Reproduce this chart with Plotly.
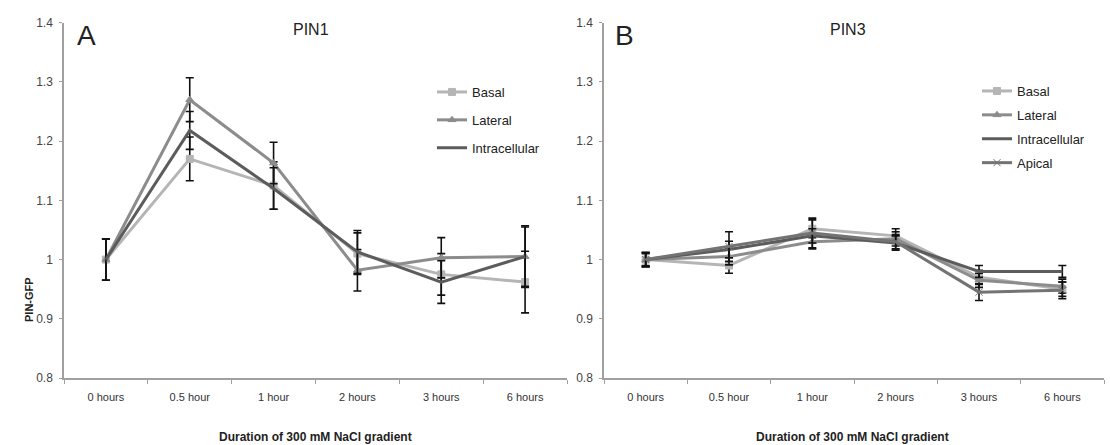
import plotly.graph_objects as go

categories = ["0 hours", "0.5 hour", "1 hour", "2 hours", "3 hours", "6 hours"]

# Panel A - PIN1
pin1_basal = [1.0, 1.17, 1.125, 1.01, 0.975, 0.962]
pin1_basal_err = [0.035, 0.037, 0.04, 0.035, 0.035, 0.052]
pin1_lateral = [1.0, 1.27, 1.163, 0.982, 1.003, 1.005]
pin1_lateral_err = [0.035, 0.037, 0.035, 0.035, 0.034, 0.05]
pin1_intra = [1.0, 1.218, 1.12, 1.013, 0.962, 1.005]
pin1_intra_err = [0.035, 0.032, 0.035, 0.036, 0.036, 0.052]

# Panel B - PIN3
pin3_basal = [1.0, 0.99, 1.052, 1.04, 0.97, 0.95]
pin3_basal_err = [0.012, 0.013, 0.015, 0.012, 0.012, 0.012]
pin3_lateral = [1.0, 1.005, 1.03, 1.035, 0.965, 0.955]
pin3_lateral_err = [0.012, 0.014, 0.012, 0.012, 0.012, 0.012]
pin3_intra = [1.0, 1.017, 1.04, 1.028, 0.98, 0.98]
pin3_intra_err = [0.012, 0.014, 0.012, 0.012, 0.01, 0.01]
pin3_apical = [1.0, 1.022, 1.045, 1.03, 0.945, 0.948]
pin3_apical_err = [0.01, 0.025, 0.025, 0.012, 0.014, 0.014]

y_ticks = [0.8, 0.9, 1.0, 1.1, 1.2, 1.3, 1.4]
y_tick_text = ["0.8", "0.9", "1", "1.1", "1.2", "1.3", "1.4"]

C_BASAL = "#b5b5b5"
C_LATERAL = "#8c8c8c"
C_INTRA = "#5c5c5c"
C_APICAL = "#737373"
FONT = "Liberation Sans, Arial, sans-serif"

fig = go.Figure()

def add(x, y, err, name, color, symbol, xa, ya, legend, group, show_marker=True):
    fig.add_trace(go.Scatter(
        x=x, y=y, name=name, mode="lines+markers" if show_marker else "lines",
        line=dict(color=color, width=3),
        marker=dict(symbol=symbol, size=7, color=color,
                    line=dict(color=color, width=1)),
        error_y=dict(type="data", array=err, color="#111111", thickness=1.6, width=4),
        xaxis=xa, yaxis=ya, legend=legend, legendgroup=group,
    ))

add(categories, pin1_basal, pin1_basal_err, "Basal", C_BASAL, "square", "x", "y", "legend", "a1")
add(categories, pin1_lateral, pin1_lateral_err, "Lateral", C_LATERAL, "triangle-up", "x", "y", "legend", "a2")
add(categories, pin1_intra, pin1_intra_err, "Intracellular", C_INTRA, "circle", "x", "y", "legend", "a3", False)

add(categories, pin3_basal, pin3_basal_err, "Basal", C_BASAL, "square", "x2", "y2", "legend2", "b1")
add(categories, pin3_lateral, pin3_lateral_err, "Lateral", C_LATERAL, "triangle-up", "x2", "y2", "legend2", "b2")
add(categories, pin3_intra, pin3_intra_err, "Intracellular", C_INTRA, "circle", "x2", "y2", "legend2", "b3", False)
add(categories, pin3_apical, pin3_apical_err, "Apical", C_APICAL, "x-thin", "x2", "y2", "legend2", "b4")

W, H = 1110, 445
y_dom = [67 / H, 422.3 / H]

xcommon = dict(type="category", showline=True, linecolor="#a0a0a0", linewidth=1.5,
               ticks="outside", ticklen=4, tickcolor="#a0a0a0", tickson="boundaries",
               showgrid=False, zeroline=False, ticklabelstandoff=8, automargin=False,
               tickfont=dict(family=FONT, size=11, color="#333333"),
               range=[-0.5, 5.5])
ycommon = dict(range=[0.8, 1.4], tickvals=y_ticks, ticktext=y_tick_text,
               showline=True, linecolor="#a0a0a0", linewidth=1.5,
               ticks="outside", ticklen=3, tickcolor="#a0a0a0", automargin=False,
               showgrid=False, zeroline=False, ticklabelstandoff=4,
               tickfont=dict(family=FONT, size=12, color="#444444"), domain=y_dom)

fig.update_layout(
    width=W, height=H, autosize=False,
    margin=dict(l=0, r=0, t=0, b=0, autoexpand=False),
    paper_bgcolor="white", plot_bgcolor="white",
    font=dict(family=FONT, color="#333333"),
    xaxis=dict(**xcommon, domain=[64 / W, 567 / W], anchor="y"),
    yaxis=dict(**ycommon, anchor="x"),
    xaxis2=dict(**xcommon, domain=[604 / W, 1104 / W], anchor="y2"),
    yaxis2=dict(**ycommon, anchor="x2"),
    legend=dict(x=432 / W, y=1 - 77 / H, xanchor="left", yanchor="top",
                bgcolor="rgba(0,0,0,0)", tracegroupgap=8, itemwidth=30,
                font=dict(family=FONT, size=13, color="#222222")),
    legend2=dict(x=977 / W, y=1 - 76 / H, xanchor="left", yanchor="top",
                 bgcolor="rgba(0,0,0,0)", tracegroupgap=4, itemwidth=30,
                 font=dict(family=FONT, size=13, color="#222222")),
    showlegend=True,
)

annotations = [
    dict(text="A", x=86 / W, y=1 - 36 / H, font=dict(size=28, color="#222222")),
    dict(text="PIN1", x=311 / W, y=1 - 30 / H, font=dict(size=16, color="#222222")),
    dict(text="B", x=624 / W, y=1 - 36 / H, font=dict(size=28, color="#222222")),
    dict(text="PIN3", x=848 / W, y=1 - 30 / H, font=dict(size=16, color="#222222")),
    dict(text="<b>Duration of 300 mM NaCl gradient</b>", x=315 / W, y=1 - 437 / H,
         font=dict(size=12, color="#222222")),
    dict(text="<b>Duration of 300 mM NaCl gradient</b>", x=852 / W, y=1 - 437 / H,
         font=dict(size=12, color="#222222")),
    dict(text="<b>PIN-GFP</b>", x=29 / W, y=1 - 300 / H, textangle=-90,
         font=dict(size=11, color="#222222")),
]
for a in annotations:
    fig.add_annotation(xref="paper", yref="paper", showarrow=False,
                       xanchor="center", yanchor="middle", **a)

fig.write_html("out.html", config={"displayModeBar": False},
               post_script="document.body.style.margin='0';document.body.style.overflow='hidden';")
